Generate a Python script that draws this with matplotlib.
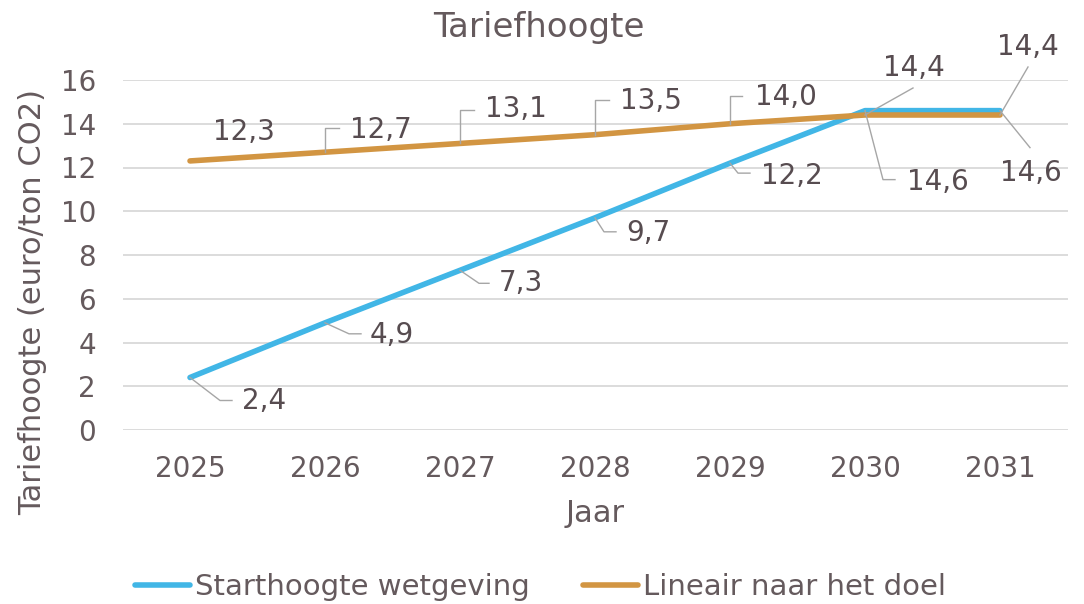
import matplotlib
matplotlib.use("Agg")
import matplotlib.pyplot as plt
from matplotlib.lines import Line2D
from matplotlib.transforms import IdentityTransform

# ---- data ----
years = ["2025", "2026", "2027", "2028", "2029", "2030", "2031"]
starthoogte = [2.4, 4.9, 7.3, 9.7, 12.2, 14.6, 14.6]
lineair = [12.3, 12.7, 13.1, 13.5, 14.0, 14.4, 14.4]
start_labels = ["2,4", "4,9", "7,3", "9,7", "12,2", "14,6", "14,6"]
lin_labels = ["12,3", "12,7", "13,1", "13,5", "14,0", "14,4", "14,4"]
yticks = [0, 2, 4, 6, 8, 10, 12, 14, 16]

# ---- label layout (image pixel offsets from the data point: text left/centre, leader vertices) ----
lin_text_off = [(23, -29), (25, -22), (25, -34), (25, -34), (25, -27), (18, -47), (-3, -68)]
lin_leader = [None, [(0, -24), (14, -24)], [(0, -33), (14, -33)], [(0, -35), (14, -35)],
              [(0, -28), (12, -28)], [(48, -27)], [(28, -48)]]
start_text_off = [(52, 24), (45, 12), (39, 13), (31, 15), (31, 13), (42, 71), (0, 62)]
start_leader = [[(30, 23), (42, 23)], [(24, 11), (36, 11)], [(19, 13), (29, 13)],
                [(9, 14), (21, 14)], [(8, 10), (20, 10)], [(18, 69), (30, 69)], [(30, 37)]]

BLUE = "#41b6e6"
ORANGE = "#d29542"
TXT = "#655a5d"
LBL = "#574c50"
GRID = "#d9d9d9"
LEAD = "#a6a6a6"

W, H = 1084, 604
fig = plt.figure(figsize=(W / 100, H / 100), dpi=100)
plt.rcParams['font.family'] = ['DejaVu Sans']
ax = fig.add_axes([122.5 / W, 1 - 430 / H, 945 / W, 350 / H])

x = list(range(len(years)))
ax.plot(x, starthoogte, color=BLUE, lw=4.0, solid_capstyle="round", solid_joinstyle="round",
        label="Starthoogte wetgeving", zorder=3)
ax.plot(x, lineair, color=ORANGE, lw=4.0, solid_capstyle="round", solid_joinstyle="round",
        label="Lineair naar het doel", zorder=3)

ax.set_xlim(-0.5, len(years) - 0.5)
ax.set_ylim(0, 16)
ax.set_yticks(yticks)
ax.set_xticks(x)
ax.set_xticklabels(years)
ax.grid(axis="y", color=GRID, lw=1.3)
ax.set_axisbelow(True)
for s in ax.spines.values():
    s.set_visible(False)
ax.tick_params(axis="both", length=0, labelsize=20, labelcolor=TXT)
ax.tick_params(axis="x", pad=18)
ax.tick_params(axis="y", pad=19)

ax.set_xlabel("Jaar", fontsize=22, color=TXT, va="center")
ax.xaxis.set_label_coords(0.5, -83 / 350)
ax.set_ylabel("Tariefhoogte (euro/ton CO2)", fontsize=22, color=TXT, va="center", ha="center")
ax.yaxis.set_label_coords((33 - 122.5) / 945, (430 - 302) / 350)

fig.text(539 / W, 1 - 27 / H, "Tariefhoogte", fontsize=24.5, color=TXT, ha="center", va="center")


def add_labels(vals, labels, toffs, leaders):
    for i, (v, lab, to, ld) in enumerate(zip(vals, labels, toffs, leaders)):
        ax.annotate(lab, xy=(i, v), xytext=(to[0], -to[1]), textcoords="offset pixels",
                    ha="left", va="center", fontsize=20, color=LBL, zorder=5)
        if ld:
            px, py = ax.transData.transform((i, v))
            xs = [px] + [px + dx for dx, dy in ld]
            ys = [py] + [py - dy for dx, dy in ld]
            fig.add_artist(Line2D(xs, ys, transform=IdentityTransform(), color=LEAD, lw=1.0, zorder=4))


add_labels(lineair, lin_labels, lin_text_off, lin_leader)
add_labels(starthoogte, start_labels, start_text_off, start_leader)

leg = fig.legend(loc="center left", bbox_to_anchor=(135 / W, 1 - 587 / H), ncol=2, frameon=False,
                 fontsize=21, handlelength=1.9, handletextpad=0.17, columnspacing=1.8,
                 borderpad=0, borderaxespad=0, labelcolor=TXT)

fig.savefig("out.png", dpi=100)
